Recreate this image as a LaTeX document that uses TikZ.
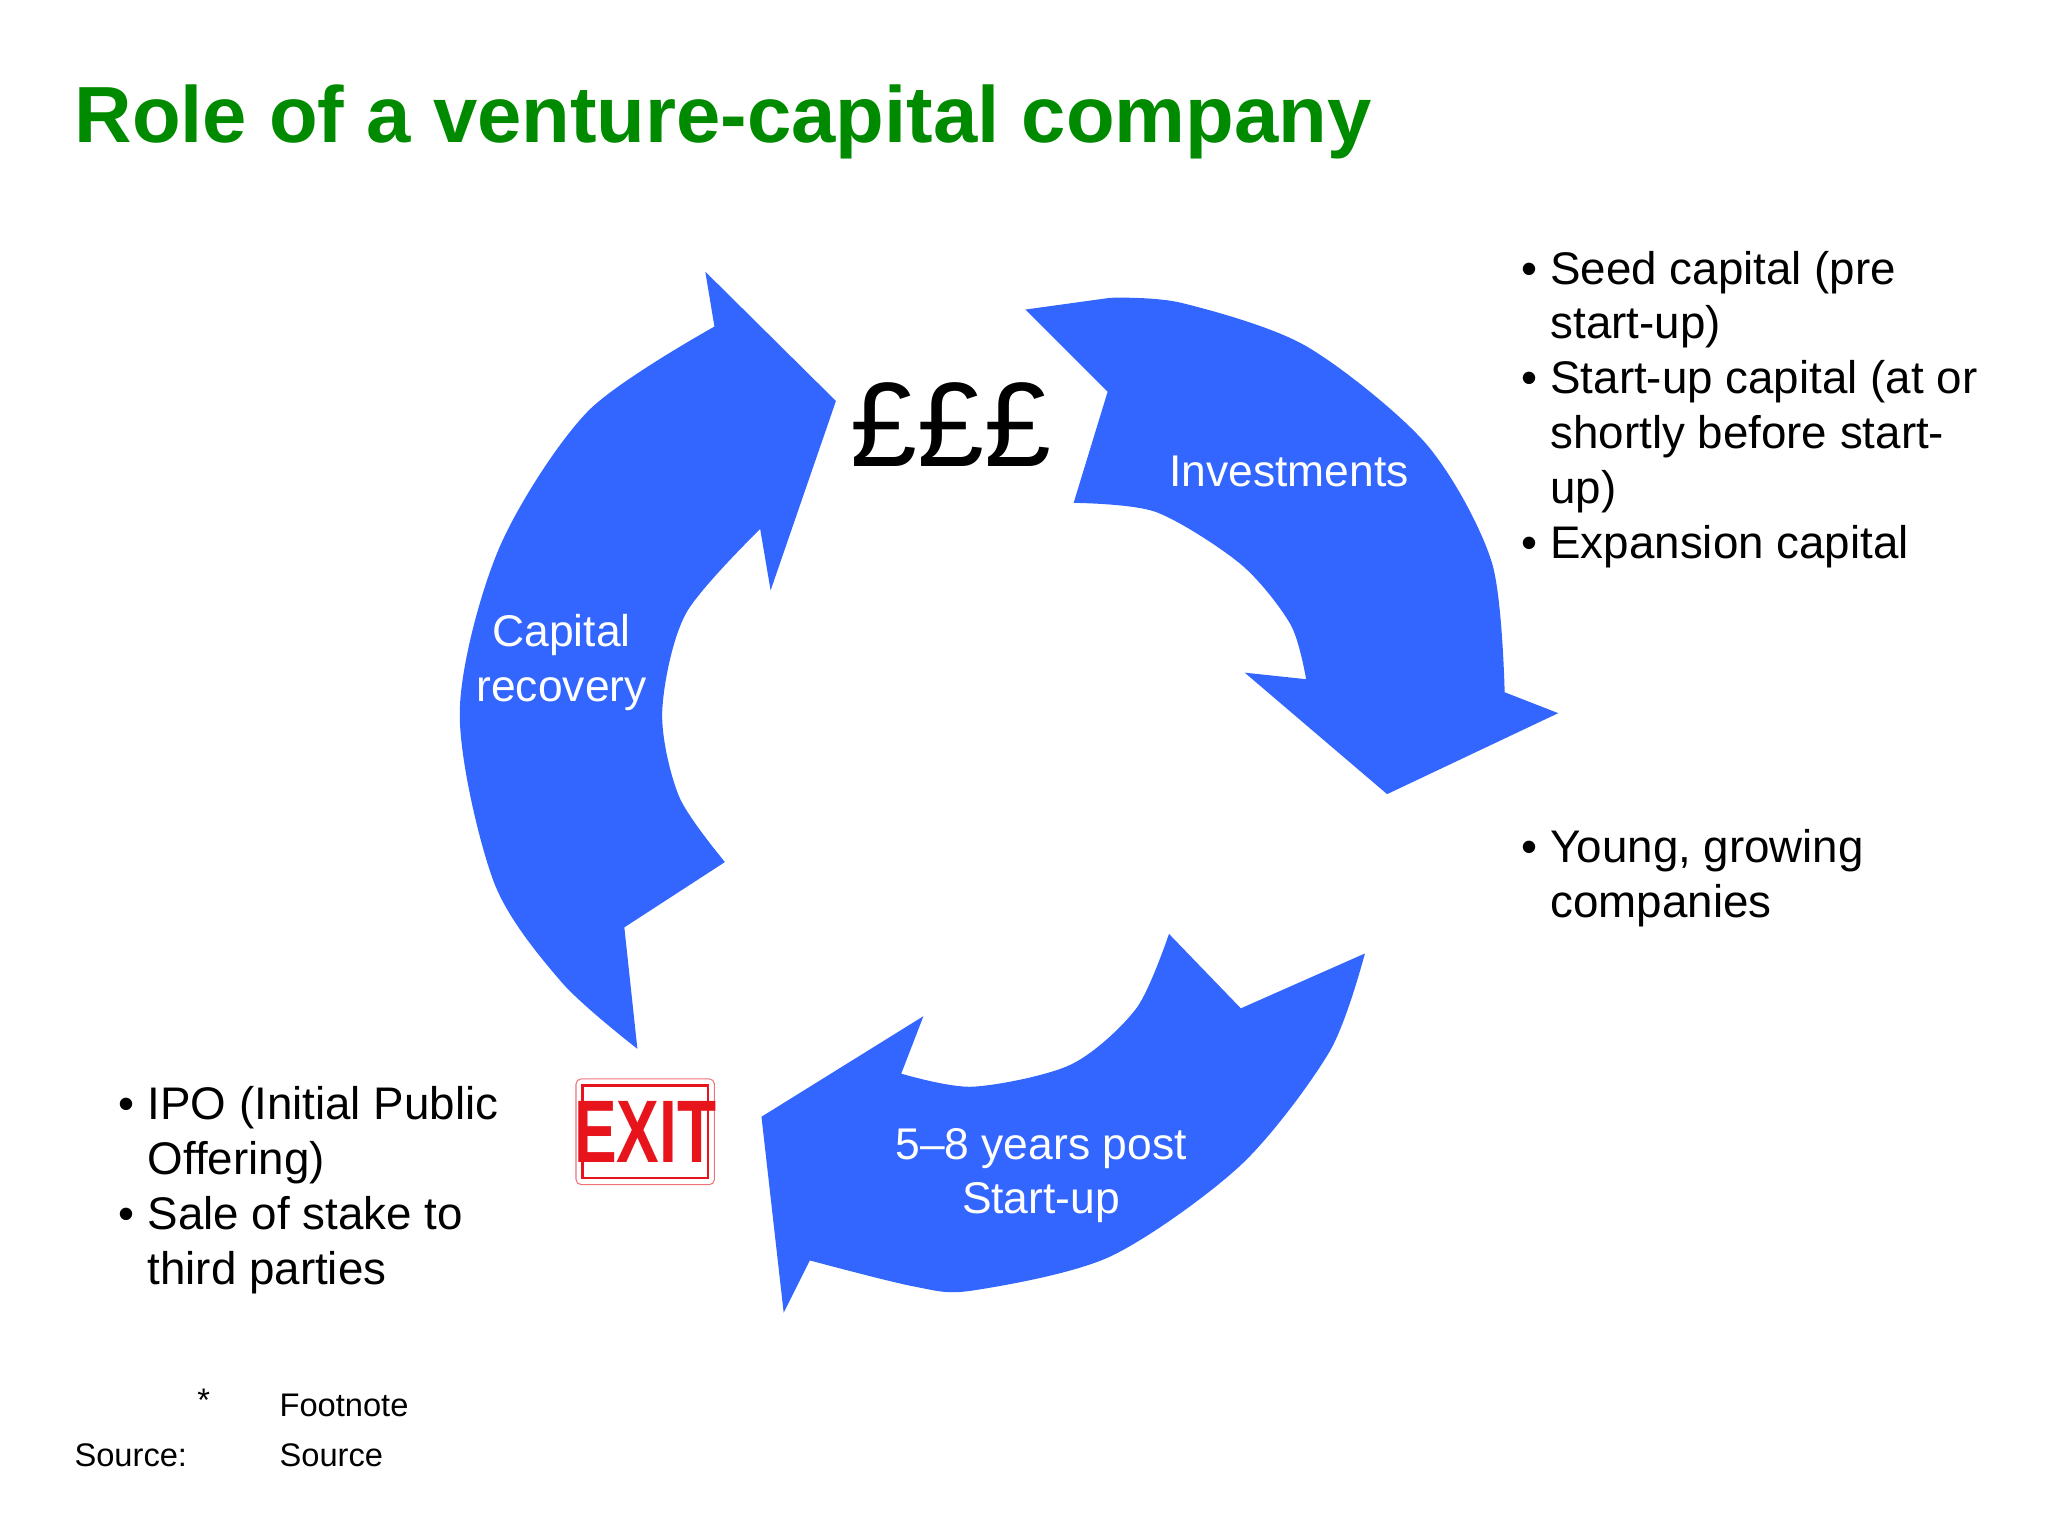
\documentclass[tikz,border=0pt]{standalone}
\usepackage{fontspec}
\setmainfont{Liberation Sans}
\begin{document}
\begin{tikzpicture}[x=0.5pt,y=-0.5pt,
  arr/.style={fill=arrblue,draw=none},
  wlab/.style={text=white,font=\fontsize{17}{21}\selectfont,align=center},
  blist/.style={anchor=north west,font=\fontsize{17.5}{21}\selectfont,align=left},
  small/.style={font=\fontsize{12.5}{15}\selectfont}]
\definecolor{arrblue}{HTML}{3366FF}
\definecolor{titlegreen}{HTML}{008A00}
\definecolor{exitred}{HTML}{E8141C}
\useasboundingbox (0,0) rectangle (1568,1174);
\node[anchor=west,text=titlegreen,font=\fontsize{30.5}{36}\bfseries\selectfont] (title) at (50,93) {Role of a venture-capital company};
% Investments arrow
\path[arr] (785,237) -- (848,300) -- (822,385)
  -- plot[smooth] coordinates {(822,385) (885,392) (950,432) (988,478) (1000,520)}
  -- (953,515) -- (1062,608) -- (1193,546) -- (1152,530)
  -- plot[smooth] coordinates {(1152,530) (1142,430) (1092,340) (1000,265) (905,232) (850,228)} -- cycle;
% Capital recovery arrow
\path[arr] (488,803) -- (478,710) -- (555,660)
  -- plot[smooth] coordinates {(555,660) (520,610) (507,545) (525,470) (582,405)}
  -- (590,452) -- (640,307) -- (540,208) -- (547,250)
  -- plot[smooth] coordinates {(547,250) (450,315) (382,420) (352,545) (378,675) (430,752) (488,803)} -- cycle;
% bottom arrow
\path[arr] (707,778) -- (583,855) -- (600,1005) -- (620,965)
  -- plot[smooth] coordinates {(620,965) (700,985) (745,988) (850,962) (950,892) (1018,805) (1045,730)}
  -- (950,772) -- (895,715)
  -- plot[smooth] coordinates {(895,715) (870,772) (820,815) (745,832) (690,822)} -- cycle;
\node[font=\fontsize{46}{50}\selectfont] (pounds) at (728,325) {£££};
\node[wlab] (inv) at (987,361) {Investments};
\node[wlab] (cap) at (430,507) {Capital\\recovery};
\node[wlab] (yrs) at (797,900) {5–8 years post\\Start-up};
\node[blist] (l1) at (1158,185) {\textbullet\ Seed capital (pre\\\hphantom{\textbullet\ }start-up)\\\textbullet\ Start-up capital (at or\\\hphantom{\textbullet\ }shortly before start-\\\hphantom{\textbullet\ }up)\\\textbullet\ Expansion capital};
\node[blist] (l2) at (1158,628) {\textbullet\ Young, growing\\\hphantom{\textbullet\ }companies};
\node[blist] (l3) at (84,825) {\textbullet\ IPO (Initial Public\\\hphantom{\textbullet\ }Offering)\\\textbullet\ Sale of stake to\\\hphantom{\textbullet\ }third parties};
\draw[exitred!60,fill=white,rounded corners=2pt] (441,826) rectangle (547,907);
\draw[exitred,line width=1pt] (446,831) rectangle (542,902);
\node[text=exitred,font=\fontsize{34}{36}\bfseries\selectfont,xscale=0.72] (exit) at (494,867) {EXIT};
\node[small] (star) at (156,1072) {*};
\node[small,anchor=west] (fn) at (207,1076) {Footnote};
\node[small,anchor=west] (src) at (50,1114) {Source:};
\node[small,anchor=west] (srct) at (207,1114) {Source};
\end{tikzpicture}
\end{document}
